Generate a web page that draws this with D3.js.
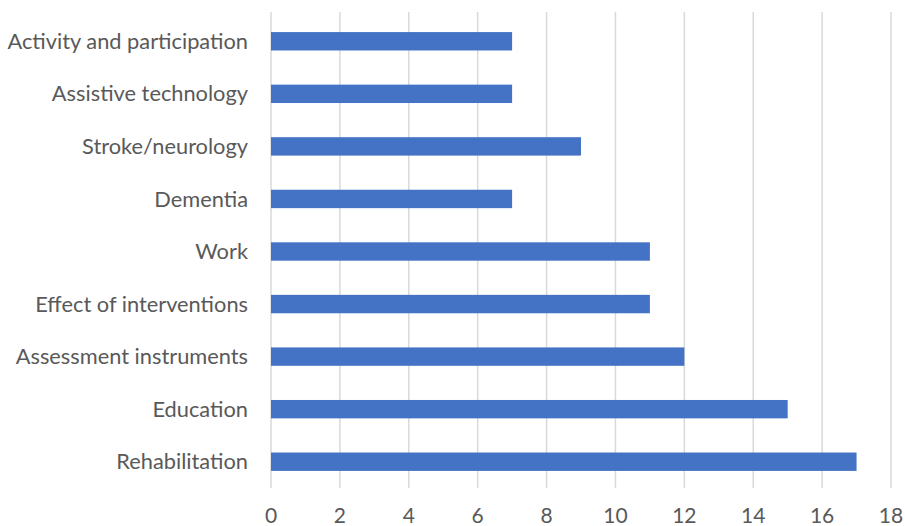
<!DOCTYPE html>
<html><head><meta charset="utf-8">
<script src="https://cdn.jsdelivr.net/npm/d3@7"></script>
<style>body{margin:0;background:#fff}svg{display:block}</style>
</head><body><svg id="c" width="905" height="526"></svg>
<script>
const categories = ["Activity and participation","Assistive technology","Stroke/neurology","Dementia","Work","Effect of interventions","Assessment instruments","Education","Rehabilitation"];
const values = [7,7,9,7,11,11,12,15,17];
const tickValues = [0,2,4,6,8,10,12,14,16,18];

const svg = d3.select("#c");
const x = d3.scaleLinear().domain([0,18]).range([271,891]);
const y = d3.scaleBand().domain(categories).range([15,488]).paddingInner(0.65).paddingOuter(0.325);
const font = "Lato, 'Open Sans', sans-serif";

svg.append("g").selectAll("line").data(tickValues).join("line")
  .attr("x1",d=>x(d)).attr("x2",d=>x(d)).attr("y1",12).attr("y2",488)
  .attr("stroke","#d9d9d9").attr("stroke-width",1.5);

svg.append("g").selectAll("rect").data(values).join("rect")
  .attr("x",x(0)).attr("y",(d,i)=>y(categories[i]))
  .attr("width",d=>x(d)-x(0)).attr("height",y.bandwidth())
  .attr("fill","#4472C4");

svg.append("g").selectAll("text").data(categories).join("text")
  .attr("x",248).attr("y",d=>y(d)+y.bandwidth()/2).attr("dy","0.35em")
  .attr("text-anchor","end").attr("font-family",font).attr("font-size",21.8)
  .attr("fill","#595959").text(d=>d);

svg.append("g").selectAll("text").data(tickValues).join("text")
  .attr("x",d=>x(d)).attr("y",516).attr("dy","0.35em")
  .attr("text-anchor","middle").attr("font-family",font).attr("font-size",21)
  .attr("fill","#595959").text(d=>d);
</script></body></html>
